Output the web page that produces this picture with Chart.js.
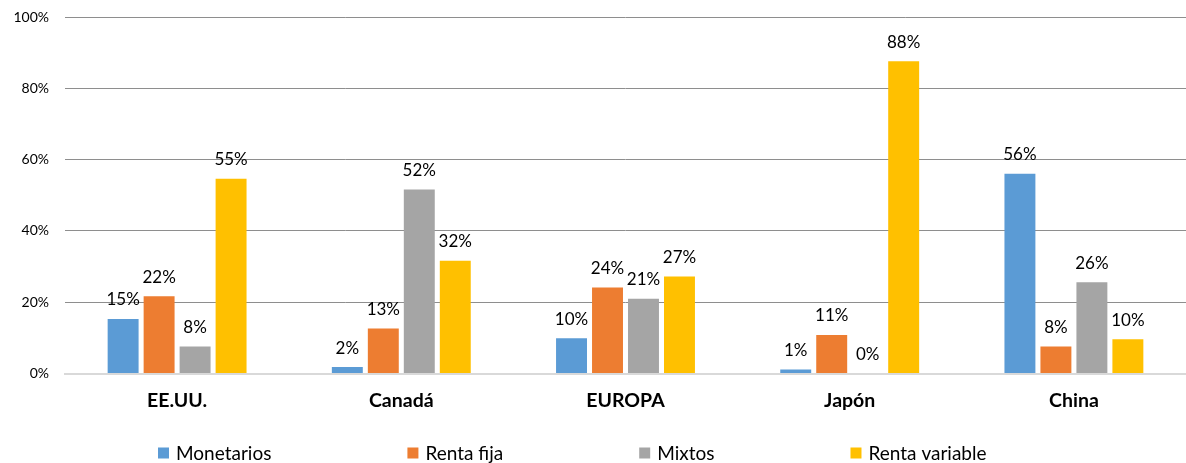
<!DOCTYPE html>
<html>
<head>
<meta charset="utf-8">
<script src="https://cdn.jsdelivr.net/npm/chart.js@4/dist/chart.umd.min.js"></script>
<style>
  html, body { margin: 0; padding: 0; background: #ffffff; }
  #wrap { width: 1186px; height: 463px; position: relative; }
</style>
</head>
<body>
<div id="wrap"><canvas id="c" width="1186" height="463"></canvas></div>
<script>
const categories = ['EE.UU.', 'Canadá', 'EUROPA', 'Japón', 'China'];
const seriesNames = ['Monetarios', 'Renta fija', 'Mixtos', 'Renta variable'];
const monetarios    = [15.3, 1.8, 9.9, 1.1, 56.0];
const rentaFija     = [21.7, 12.6, 24.1, 10.8, 7.6];
const mixtos        = [7.6, 51.6, 21.0, 0.0, 25.6];
const rentaVariable = [54.6, 31.6, 27.2, 87.6, 9.6];
const yTicks = [0, 20, 40, 60, 80, 100];
const colors = ['#5B9BD5', '#ED7D31', '#A5A5A5', '#FFC000'];

const FONT = 'Lato, "Liberation Sans", sans-serif';
const seriesValues = [monetarios, rentaFija, mixtos, rentaVariable];

const dataLabels = {
  id: 'dataLabels',
  afterDatasetsDraw(chart) {
    const ctx = chart.ctx;
    ctx.save();
    ctx.font = '17px ' + FONT;
    ctx.fillStyle = '#000000';
    ctx.textAlign = 'center';
    ctx.textBaseline = 'alphabetic';
    chart.data.datasets.forEach((ds, i) => {
      const meta = chart.getDatasetMeta(i);
      meta.data.forEach((el, j) => {
        const v = ds.data[j];
        ctx.fillText(Math.round(v) + '%', el.x, el.y - 13.5);
      });
    });
    ctx.restore();
  }
};

const customLegend = {
  id: 'customLegend',
  afterDraw(chart) {
    const ctx = chart.ctx;
    ctx.save();
    ctx.font = '19px ' + FONT;
    ctx.textBaseline = 'middle';
    ctx.textAlign = 'left';
    let x = 158;
    const yc = 453;
    const box = 11;
    chart.data.datasets.forEach((ds) => {
      ctx.fillStyle = ds.backgroundColor;
      ctx.fillRect(x, yc - box / 2, box, box);
      ctx.fillStyle = '#000000';
      ctx.fillText(ds.label, x + box + 7, yc + 1);
      const w = ctx.measureText(ds.label).width;
      x += box + 7 + w + 136;
    });
    ctx.restore();
  }
};

new Chart(document.getElementById('c'), {
  type: 'bar',
  data: {
    labels: categories,
    datasets: seriesNames.map((name, i) => ({
      label: name,
      data: seriesValues[i],
      backgroundColor: colors[i],
      borderWidth: 0,
      categoryPercentage: 0.642,
      barPercentage: 0.86
    }))
  },
  options: {
    responsive: false,
    devicePixelRatio: 1,
    animation: false,
    layout: { padding: { top: 17, left: 0, right: 0, bottom: 49.5 } },
    plugins: {
      legend: { display: false },
      tooltip: { enabled: false }
    },
    scales: {
      x: {
        grid: { display: false, drawTicks: false },
        border: { display: true, color: '#D9D9D9', width: 2 },
        ticks: {
          color: '#000000',
          font: { family: FONT, size: 19.5, weight: 'bold' },
          padding: 16
        },
        afterFit(s) { s.height = 40; }
      },
      y: {
        min: 0,
        max: 100,
        afterBuildTicks(s) { s.ticks = yTicks.map(v => ({ value: v })); },
        grid: {
          drawTicks: false,
          color: (c) => (c.tick && c.tick.value === 0) ? 'rgba(0,0,0,0)' : '#8E8E8E',
          lineWidth: 1
        },
        border: { display: false },
        ticks: {
          color: '#000000',
          font: { family: FONT, size: 14 },
          padding: 16,
          callback: (v) => v + '%'
        },
        afterFit(s) { s.width = 65; s.paddingTop = 0; s.paddingBottom = 0; }
      }
    }
  },
  plugins: [dataLabels, customLegend]
});
</script>
</body>
</html>
